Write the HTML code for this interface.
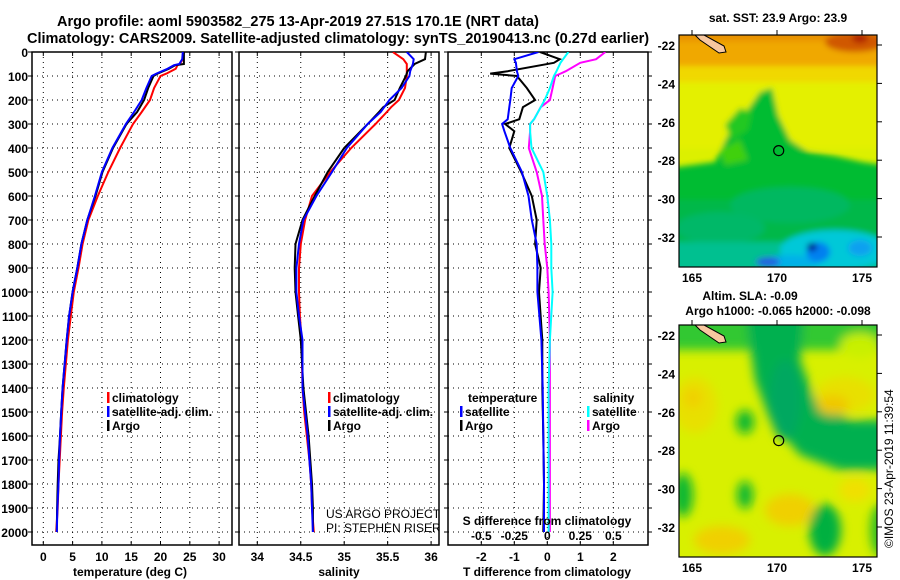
<!DOCTYPE html>
<html><head><meta charset="utf-8">
<style>
html,body{margin:0;padding:0;background:#fff;}
svg{display:block;font-family:"Liberation Sans",Arial,sans-serif;}
.b{font-weight:bold;}
</style></head>
<body>
<svg id="fig" width="900" height="580" viewBox="0 0 900 580" xmlns="http://www.w3.org/2000/svg">
<defs>
  <filter id="blur" filterUnits="userSpaceOnUse" x="660" y="20" width="240" height="260"><feGaussianBlur stdDeviation="3"/></filter>
  <filter id="blur2" filterUnits="userSpaceOnUse" x="660" y="300" width="240" height="280"><feGaussianBlur stdDeviation="5"/></filter>
  <clipPath id="clipMap1"><rect x="679" y="35" width="198" height="232"/></clipPath>
  <clipPath id="clipMap2"><rect x="679" y="325" width="198" height="232"/></clipPath>
  <clipPath id="clipP1"><rect x="32" y="52" width="200" height="493"/></clipPath>
  <clipPath id="clipP2"><rect x="239" y="52" width="200" height="493"/></clipPath>
  <clipPath id="clipP3"><rect x="448" y="52" width="200" height="493"/></clipPath>
</defs>
<text class="b" x="57" y="26" font-size="14.5">Argo profile: aoml 5903582_275 13-Apr-2019 27.51S 170.1E (NRT data)</text>
<text class="b" x="27" y="43" font-size="14.5">Climatology: CARS2009. Satellite-adjusted climatology: synTS_20190413.nc (0.27d earlier)</text>

<g id="maps">
  <text class="b" x="778" y="22" font-size="12" text-anchor="middle">sat. SST: 23.9 Argo: 23.9</text>
  <g clip-path="url(#clipMap1)">
    <rect x="679" y="35" width="198" height="232" fill="#dcf000"/>
    <g filter="url(#blur)">
      <rect x="670" y="25" width="220" height="45" fill="#f0a800"/>
      <rect x="670" y="25" width="220" height="16" fill="#e89000"/>
      <ellipse cx="855" cy="42" rx="30" ry="10" fill="#d05800"/>
      <ellipse cx="860" cy="38" rx="8" ry="5" fill="#b02000"/>
      <rect x="670" y="66" width="220" height="16" fill="#f0d800"/>
      <rect x="670" y="82" width="220" height="66" fill="#e4f000"/>
      <polygon points="670,168 715,162 728,135 742,118 760,92 772,88 778,115 790,140 808,152 835,156 862,162 890,166 890,280 670,280" fill="#00bc30"/>
      <polygon points="725,125 740,108 752,112 748,130 732,140" fill="#20c820"/>
      <polygon points="720,150 740,140 748,160 725,165" fill="#40d010"/>
      <rect x="670" y="200" width="220" height="80" fill="#00b848"/>
      <ellipse cx="790" cy="205" rx="60" ry="18" fill="#00b860"/>
      <ellipse cx="720" cy="228" rx="45" ry="16" fill="#00b868"/>
      <rect x="670" y="242" width="220" height="40" fill="#00c090"/>
      <ellipse cx="835" cy="250" rx="55" ry="20" fill="#00c8d8"/>
      <ellipse cx="790" cy="262" rx="30" ry="7" fill="#00b0e8"/>
      <ellipse cx="818" cy="252" rx="12" ry="10" fill="#0080f0"/>
      <ellipse cx="768" cy="262" rx="12" ry="5" fill="#2060e0"/>
      <ellipse cx="860" cy="248" rx="12" ry="8" fill="#10a0f0"/>
      <ellipse cx="812" cy="247" rx="5" ry="4" fill="#000090"/>
    </g>
    <polygon points="695,35 704,35 724,46 726,52 719,53 700,40" fill="#f8c8a0" stroke="#000" stroke-width="1"/>
    <circle cx="778.7" cy="150.6" r="5" fill="none" stroke="#000" stroke-width="1.2"/>
  </g>
  <rect x="679" y="35" width="198" height="232" fill="none" stroke="#000" stroke-width="1.2"/>

  <text class="b" x="750" y="300" font-size="12" text-anchor="middle">Altim. SLA: -0.09</text>
  <text class="b" x="778" y="315" font-size="12" text-anchor="middle">Argo h1000: -0.065 h2000: -0.098</text>
  <g clip-path="url(#clipMap2)">
    <rect x="679" y="325" width="198" height="232" fill="#d8f000"/>
    <g filter="url(#blur2)">
      <rect x="660" y="310" width="240" height="40" fill="#30c830"/>
      <ellipse cx="860" cy="345" rx="20" ry="12" fill="#c8f000"/>
      <polygon points="745,310 805,310 800,360 815,400 850,420 900,420 900,470 840,470 800,455 770,420 755,380" fill="#00b050"/>
      <ellipse cx="785" cy="400" rx="16" ry="40" fill="#00a860"/>
      <ellipse cx="845" cy="395" rx="30" ry="18" fill="#e8e000"/>
      <ellipse cx="833" cy="405" rx="16" ry="10" fill="#f0c800"/>
      <ellipse cx="695" cy="405" rx="22" ry="28" fill="#e8e000"/>
      <ellipse cx="693" cy="398" rx="9" ry="10" fill="#f0d000"/>
      <ellipse cx="745" cy="422" rx="9" ry="12" fill="#10b830"/>
      <ellipse cx="745" cy="495" rx="8" ry="14" fill="#10b830"/>
      <ellipse cx="683" cy="495" rx="10" ry="22" fill="#10b830"/>
      <ellipse cx="790" cy="510" rx="25" ry="16" fill="#f0d000"/>
      <ellipse cx="722" cy="540" rx="28" ry="14" fill="#f0d000"/>
      <ellipse cx="855" cy="490" rx="16" ry="12" fill="#f0e000"/>
      <ellipse cx="825" cy="530" rx="16" ry="26" fill="#00b040"/>
      <ellipse cx="880" cy="530" rx="10" ry="26" fill="#30c020"/>
    </g>
    <polygon points="695,325 704,325 724,336 726,342 719,343 700,330" fill="#f8c8a0" stroke="#000" stroke-width="1"/>
    <circle cx="778.7" cy="440.6" r="5" fill="none" stroke="#000" stroke-width="1.2"/>
  </g>
  <rect x="679" y="325" width="198" height="232" fill="none" stroke="#000" stroke-width="1.2"/>
  <g id="mapAxes"></g>
  <text x="893" y="548" font-size="12" transform="rotate(-90 893 548)">©IMOS 23-Apr-2019 11:39:54</text>
</g>

<g id="panels"></g>
</svg>
<script>
// ---------- data ----------
const depthTicks = [0,100,200,300,400,500,600,700,800,900,1000,1100,1200,1300,1400,1500,1600,1700,1800,1900,2000];
const tempTicks = [0,5,10,15,20,25,30];
const salTicks = [34,34.5,35,35.5,36];
const tdTicks = [-2,-1,0,1,2];
const sdTicks = [-0.5,-0.25,0,0.25,0.5];
const latTicks = [-22,-24,-26,-28,-30,-32];
const lonTicks = [165,170,175];

const tDepth   = [0,30,50,55,70,90,100,150,200,250,300,400,500,600,700,800,900,1000,1100,1200,1400,1500,1600,1700,1800,1900,2000];
const tArgo    = [24.0,24.0,24.0,22.5,21.4,19.5,18.8,17.9,17.2,16.0,14.2,11.9,10.1,8.9,7.5,6.5,5.8,5.0,4.4,4.0,3.3,3.05,2.85,2.6,2.45,2.35,2.3];
const tSat     = [23.8,23.7,23.2,22.3,21.2,19.3,18.5,17.6,16.8,15.5,14.1,11.8,10.0,8.8,7.5,6.5,5.8,5.0,4.4,4.0,3.3,3.05,2.85,2.7,2.6,2.4,2.3];
const tClim    = [24.0,23.8,23.3,22.9,22.6,21.0,20.0,18.9,18.2,16.8,15.3,13.1,11.1,9.3,7.7,6.7,6.0,5.2,4.7,4.2,3.5,3.2,3.0,2.8,2.6,2.45,2.2];

const sDepth   = [0,30,50,80,100,150,200,230,250,300,400,500,600,700,800,900,1000,1100,1200,1400,1500,1600,1700,1800,1900,2000];
const sArgo    = [35.94,35.93,35.81,35.73,35.71,35.64,35.58,35.45,35.40,35.27,35.0,34.81,34.66,34.52,34.44,34.43,34.44,34.47,34.50,34.53,34.56,34.59,34.61,34.63,34.64,34.64];
const sSat     = [35.72,35.80,35.79,35.76,35.75,35.66,35.52,35.46,35.42,35.27,35.03,34.86,34.68,34.53,34.48,34.45,34.45,34.48,34.52,34.52,34.55,34.58,34.60,34.62,34.63,34.64];
const sClim    = [35.56,35.68,35.72,35.72,35.72,35.70,35.63,35.54,35.49,35.36,35.08,34.84,34.63,34.55,34.50,34.48,34.48,34.49,34.51,34.52,34.54,34.57,34.60,34.62,34.63,34.65];

const dDepth   = [0,30,45,80,90,100,150,200,230,280,300,330,400,500,600,700,800,900,1000,1200,1400,1600,1800,2000];
const dTArgo   = [-0.22,0.38,0.2,-1.2,-1.73,-0.92,-0.62,-0.37,-0.74,-0.85,-1.28,-1.0,-1.15,-0.79,-0.47,-0.32,-0.37,-0.2,-0.25,-0.15,-0.15,-0.12,-0.1,-0.12];
const dTSat    = [-0.27,-1.0,-0.95,-0.92,-0.9,-0.88,-1.08,-1.12,-1.15,-1.2,-1.37,-1.3,-1.12,-0.77,-0.57,-0.47,-0.32,-0.3,-0.3,-0.18,-0.14,-0.12,-0.1,-0.1];
const dSSat    = [0.16,0.12,0.1,0.07,0.06,0.05,0.02,-0.02,-0.05,-0.1,-0.13,-0.13,-0.12,-0.03,0.0,0.02,0.03,0.03,0.04,0.02,0.01,0.01,0.01,0.01];
const dSArgo   = [0.44,0.37,0.25,0.14,0.1,0.06,0.04,0.02,-0.05,-0.1,-0.13,-0.13,-0.14,-0.08,-0.04,-0.03,-0.02,0.0,0.01,0.02,0.02,0.02,0.02,0.02];

// ---------- scales ----------
const PT = 52, PB = 545;
const yD = d => PT + d*0.24;
const xT = t => 43.3 + 5.86*t;
const xS = s => 257.3 + 86.9*(s-34);
const xDT = t => 547.3 + 33*t;
const xDS = s => 547.3 + 132*s;
const mapX = lon => 692 + (lon-165)*17;
const mapY1 = lat => 45 + (-22-lat)*19.2;

const NS='http://www.w3.org/2000/svg';
const root=document.getElementById('panels');
function mk(tag, attrs, parent){const e=document.createElementNS(NS,tag);for(const k in attrs)e.setAttribute(k,attrs[k]);(parent||root).appendChild(e);return e;}
function txt(s,x,y,size,anchor,bold,parent){const e=mk('text',{x:x,y:y,'font-size':size,'text-anchor':anchor||'start'},parent);if(bold)e.setAttribute('class','b');e.textContent=s;return e;}

function panel(x0,x1,name,xticks,xf,xlabels,clip){
  const g=mk('g',{});
  
  
  depthTicks.forEach(d=>{ if(d>0) mk('line',{x1:x0,x2:x1,y1:yD(d),y2:yD(d),stroke:'#000','stroke-width':1,'stroke-dasharray':'1,4'},g);
    mk('line',{x1:x0-4,x2:x0,y1:yD(d),y2:yD(d),stroke:'#000','stroke-width':1},g);});
  xticks.forEach(v=>{const x=xf(v); mk('line',{x1:x,x2:x,y1:PT,y2:PB,stroke:'#000','stroke-width':1,'stroke-dasharray':'1,4'},g);
    mk('line',{x1:x,x2:x,y1:PT,y2:PT+4,stroke:'#000'},g); mk('line',{x1:x,x2:x,y1:PB-4,y2:PB,stroke:'#000'},g);
    if(xlabels){const t=txt(String(v),x,561,12,'middle',true,g);
      
      }});
  mk('rect',{x:x0,y:PT,width:x1-x0,height:PB-PT,fill:'none',stroke:'#000','stroke-width':1.5},g);
  return g;
}
function series(g,depths,vals,xf,color,name,clip,w){
  const pts=depths.map((d,i)=>xf(vals[i]).toFixed(1)+','+yD(d).toFixed(1)).join(' ');
  const p=mk('polyline',{points:pts,fill:'none',stroke:color,'stroke-width':w||2,'stroke-linejoin':'miter','clip-path':'url(#'+clip+')'},g);
  
  
}
function legendEntry(g,x,y,color,label){
  mk('rect',{x:x,y:y-10,width:2.5,height:11,fill:color},g);
  const t=txt(label,x+5,y,12,'start',true,g);
  
  
}

// Panel 1: temperature
const g1=panel(32,232,'temperature-panel',tempTicks,xT,true,'clipP1');
depthTicks.forEach(d=>{const t=txt(String(d),28,yD(d)+5,12,'end',true,g1);
  
  });
series(g1,tDepth,tClim,xT,'#ff0000','temp-climatology-line','clipP1');
series(g1,tDepth,tArgo,xT,'#000000','temp-argo-line','clipP1');
series(g1,tDepth,tSat,xT,'#0000ff','temp-satellite-line','clipP1');
legendEntry(g1,107,402,'#ff0000','climatology');
legendEntry(g1,107,416,'#0000ff','satellite-adj. clim.');
legendEntry(g1,107,430,'#000000','Argo');
const xt1=txt('temperature (deg C)',130,576,12,'middle',true,g1);



// Panel 2: salinity
const g2=panel(239,439,'salinity-panel',salTicks,xS,true,'clipP2');
series(g2,sDepth,sClim,xS,'#ff0000','sal-climatology-line','clipP2');
series(g2,sDepth,sArgo,xS,'#000000','sal-argo-line','clipP2');
series(g2,sDepth,sSat,xS,'#0000ff','sal-satellite-line','clipP2');
legendEntry(g2,328,402,'#ff0000','climatology');
legendEntry(g2,328,416,'#0000ff','satellite-adj. clim.');
legendEntry(g2,328,430,'#000000','Argo');
const cr=mk('g',{'clip-path':'url(#clipP2)'},g2);
txt('US ARGO PROJECT',326,518,12,'start',false,cr);
txt('PI: STEPHEN RISER',326,532,12,'start',false,cr);
const xt2=txt('salinity',339,576,12,'middle',true,g2);



// Panel 3: differences
const g3=panel(448,648,'difference-panel',tdTicks,xDT,true,'clipP3');
depthTicks.forEach(d=>mk('line',{x1:648,x2:652,y1:yD(d),y2:yD(d),stroke:'#000'},g3));
series(g3,dDepth,dSArgo,xDS,'#ff00ff','sdiff-argo-line','clipP3');
series(g3,dDepth,dSSat,xDS,'#00ffff','sdiff-satellite-line','clipP3');
series(g3,dDepth,dTArgo,xDT,'#000000','tdiff-argo-line','clipP3');
series(g3,dDepth,dTSat,xDT,'#0000ff','tdiff-satellite-line','clipP3');
txt('temperature',468,402,12,'start',true,g3);
legendEntry(g3,460,416,'#0000ff','satellite');
legendEntry(g3,460,430,'#000000','Argo');
txt('salinity',593,402,12,'start',true,g3);
legendEntry(g3,587,416,'#00ffff','satellite');
legendEntry(g3,587,430,'#ff00ff','Argo');
txt('S difference from climatology',547,525,12,'middle',true,g3);
sdTicks.forEach(v=>{const t=txt(String(v),xDS(v),540,12,'middle',true,g3);
  
  });
const xt3=txt('T difference from climatology',547,576,12,'middle',true,g3);



// map axes
const ma=document.getElementById('mapAxes');
[[35,0],[325,290]].forEach(([top,off])=>{
  latTicks.forEach(lat=>{const y=mapY1(lat)+off;
    mk('line',{x1:877,x2:882,y1:y,y2:y,stroke:'#000'},ma);
    const t=txt(String(lat),675,y+5,12,'end',true,ma);
    
    });
  lonTicks.forEach(lon=>{const x=mapX(lon);
    mk('line',{x1:x,x2:x,y1:top-5,y2:top,stroke:'#000'},ma);
    const t=txt(String(lon),x,top+247,12,'middle',true,ma);
    
    });
});
</script>
</body></html>
